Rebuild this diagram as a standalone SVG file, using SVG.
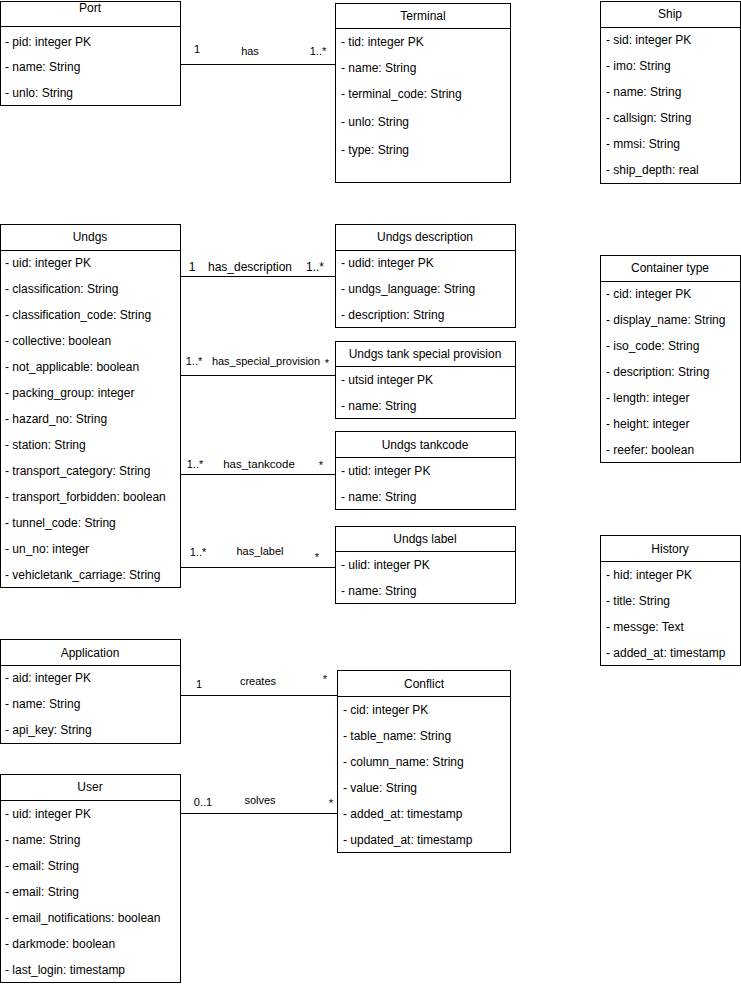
<svg xmlns="http://www.w3.org/2000/svg" width="741" height="986" viewBox="0 0 741 986">
<style>
text{font-family:"Liberation Sans",Arial,sans-serif;font-size:12px;fill:#000;dominant-baseline:central}
.t{text-anchor:middle}
.box{fill:#fff;stroke:#000;stroke-width:1}
.hl{stroke:#000;stroke-width:1}
.c{fill:none;stroke:#000;stroke-width:1}
.lb{text-anchor:middle;font-size:11px}
.lb12{text-anchor:middle;font-size:12px}
</style>
<rect width="741" height="986" fill="#fff"/>

<g id="connectors">
<path class="c" d="M180.5 64.5H335.5"/>
<text class="lb" x="197" y="49">1</text><text class="lb" x="250" y="51">has</text><text class="lb" x="318" y="51">1..*</text>

<path class="c" d="M180.5 276.5H335.5"/>
<text class="lb12" x="192" y="267">1</text><text class="lb12" x="250" y="267">has_description</text><text class="lb12" x="315" y="267">1..*</text>

<path class="c" d="M180.5 375.5H335.5V381"/>
<text class="lb" x="194" y="361">1..*</text><text class="lb" x="266" y="361">has_special_provision</text><text class="lb" x="327" y="363">*</text>

<path class="c" d="M180.5 474.5H335.5"/>
<text class="lb" x="195" y="464">1..*</text><text class="lb" x="259" y="464" style="font-size:11.5px">has_tankcode</text><text class="lb" x="321" y="465">*</text>

<path class="c" d="M180.5 567.5H335.5"/>
<text class="lb" x="198" y="552">1..*</text><text class="lb" x="260" y="551">has_label</text><text class="lb" x="317" y="557">*</text>

<path class="c" d="M180.5 695.5H340.5V690"/>
<text class="lb" x="199" y="684">1</text><text class="lb" x="258" y="681">creates</text><text class="lb" x="325" y="679">*</text>

<path class="c" d="M180.5 813.5H337.5"/>
<text class="lb" x="203" y="802">0..1</text><text class="lb" x="260" y="800">solves</text><text class="lb" x="331" y="803">*</text>
</g>

<g id="port">
<rect class="box" x="0.5" y="1.5" width="180" height="104"/>
<line class="hl" x1="0.5" y1="26.5" x2="180.5" y2="26.5"/>
<text class="t" x="90" y="8">Port</text>
<text x="5" y="42">- pid: integer PK</text>
<text x="5" y="67">- name: String</text>
<text x="5" y="93">- unlo: String</text>
</g>

<g id="terminal">
<rect class="box" x="335.5" y="3.5" width="175" height="179"/>
<line class="hl" x1="335.5" y1="28.5" x2="510.5" y2="28.5"/>
<text class="t" x="423" y="16">Terminal</text>
<text x="341" y="42">- tid: integer PK</text>
<text x="341" y="68">- name: String</text>
<text x="341" y="94">- terminal_code: String</text>
<text x="341" y="122">- unlo: String</text>
<text x="341" y="150">- type: String</text>
</g>

<g id="ship">
<rect class="box" x="600.5" y="1.5" width="140" height="182"/>
<line class="hl" x1="600.5" y1="27.5" x2="740.5" y2="27.5"/>
<text class="t" x="670" y="14">Ship</text>
<text x="606" y="40">- sid: integer PK</text>
<text x="606" y="66">- imo: String</text>
<text x="606" y="92">- name: String</text>
<text x="606" y="118">- callsign: String</text>
<text x="606" y="144">- mmsi: String</text>
<text x="606" y="170">- ship_depth: real</text>
</g>

<g id="undgs">
<rect class="box" x="0.5" y="224.5" width="180" height="363"/>
<line class="hl" x1="0.5" y1="250.5" x2="180.5" y2="250.5"/>
<text class="t" x="90" y="237">Undgs</text>
<text x="5" y="263">- uid: integer PK</text>
<text x="5" y="289">- classification: String</text>
<text x="5" y="315">- classification_code: String</text>
<text x="5" y="341">- collective: boolean</text>
<text x="5" y="367">- not_applicable: boolean</text>
<text x="5" y="393">- packing_group: integer</text>
<text x="5" y="419">- hazard_no: String</text>
<text x="5" y="445">- station: String</text>
<text x="5" y="471">- transport_category: String</text>
<text x="5" y="497">- transport_forbidden: boolean</text>
<text x="5" y="523">- tunnel_code: String</text>
<text x="5" y="549">- un_no: integer</text>
<text x="5" y="575">- vehicletank_carriage: String</text>
</g>

<g id="undgs_description">
<rect class="box" x="335.5" y="224.5" width="180" height="103"/>
<line class="hl" x1="335.5" y1="250.5" x2="515.5" y2="250.5"/>
<text class="t" x="425" y="237">Undgs description</text>
<text x="341" y="263">- udid: integer PK</text>
<text x="341" y="289">- undgs_language: String</text>
<text x="341" y="315">- description: String</text>
</g>

<g id="undgs_tank_special_provision">
<rect class="box" x="335.5" y="341.5" width="180" height="77"/>
<line class="hl" x1="335.5" y1="366.5" x2="515.5" y2="366.5"/>
<text class="t" x="425" y="354">Undgs tank special provision</text>
<text x="341" y="380">- utsid integer PK</text>
<text x="341" y="406">- name: String</text>
</g>

<g id="undgs_tankcode">
<rect class="box" x="335.5" y="431.5" width="180" height="78"/>
<line class="hl" x1="335.5" y1="457.5" x2="515.5" y2="457.5"/>
<text class="t" x="425" y="445">Undgs tankcode</text>
<text x="341" y="471">- utid: integer PK</text>
<text x="341" y="497">- name: String</text>
</g>

<g id="undgs_label">
<rect class="box" x="335.5" y="526.5" width="180" height="77"/>
<line class="hl" x1="335.5" y1="551.5" x2="515.5" y2="551.5"/>
<text class="t" x="425" y="539">Undgs label</text>
<text x="341" y="565">- ulid: integer PK</text>
<text x="341" y="591">- name: String</text>
</g>

<g id="container_type">
<rect class="box" x="600.5" y="255.5" width="140" height="207"/>
<line class="hl" x1="600.5" y1="281.5" x2="740.5" y2="281.5"/>
<text class="t" x="670" y="268">Container type</text>
<text x="606" y="294">- cid: integer PK</text>
<text x="606" y="320">- display_name: String</text>
<text x="606" y="346">- iso_code: String</text>
<text x="606" y="372">- description: String</text>
<text x="606" y="398">- length: integer</text>
<text x="606" y="424">- height: integer</text>
<text x="606" y="450">- reefer: boolean</text>
</g>

<g id="history">
<rect class="box" x="600.5" y="535.5" width="140" height="130"/>
<line class="hl" x1="600.5" y1="561.5" x2="740.5" y2="561.5"/>
<text class="t" x="670" y="549">History</text>
<text x="606" y="575">- hid: integer PK</text>
<text x="606" y="601">- title: String</text>
<text x="606" y="627">- messge: Text</text>
<text x="606" y="653">- added_at: timestamp</text>
</g>

<g id="application">
<rect class="box" x="0.5" y="639.5" width="180" height="104"/>
<line class="hl" x1="0.5" y1="665.5" x2="180.5" y2="665.5"/>
<text class="t" x="90" y="653">Application</text>
<text x="5" y="678">- aid: integer PK</text>
<text x="5" y="704">- name: String</text>
<text x="5" y="730">- api_key: String</text>
</g>

<g id="conflict">
<rect class="box" x="337.5" y="670.5" width="173" height="182"/>
<line class="hl" x1="337.5" y1="696.5" x2="510.5" y2="696.5"/>
<text class="t" x="424" y="684">Conflict</text>
<text x="343" y="710">- cid: integer PK</text>
<text x="343" y="736">- table_name: String</text>
<text x="343" y="762">- column_name: String</text>
<text x="343" y="788">- value: String</text>
<text x="343" y="814">- added_at: timestamp</text>
<text x="343" y="840">- updated_at: timestamp</text>
</g>

<g id="user">
<rect class="box" x="0.5" y="774.5" width="180" height="208"/>
<line class="hl" x1="0.5" y1="800.5" x2="180.5" y2="800.5"/>
<text class="t" x="90" y="787">User</text>
<text x="5" y="814">- uid: integer PK</text>
<text x="5" y="840">- name: String</text>
<text x="5" y="866">- email: String</text>
<text x="5" y="892">- email: String</text>
<text x="5" y="918">- email_notifications: boolean</text>
<text x="5" y="944">- darkmode: boolean</text>
<text x="5" y="970">- last_login: timestamp</text>
</g>
</svg>
